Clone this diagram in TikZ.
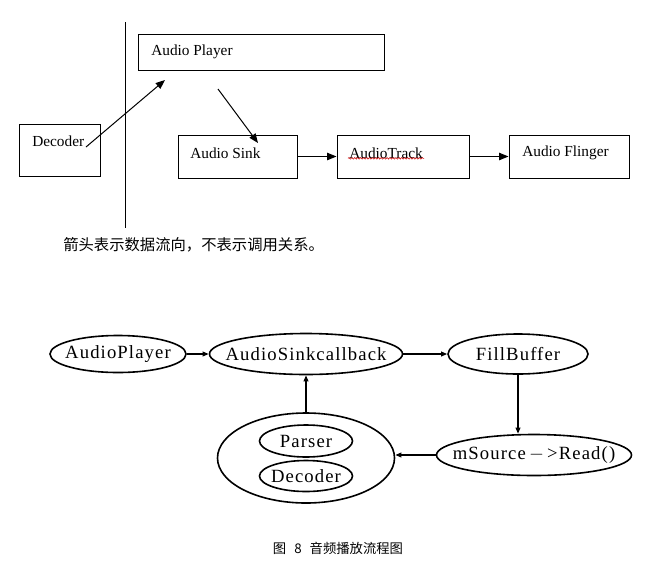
\documentclass[tikz,border=0pt]{standalone}
\usepackage{fontspec}
\setmainfont{Liberation Serif}
\newfontfamily\cjk{Noto Sans CJK SC}
\usetikzlibrary{arrows.meta,shapes.geometric,decorations.pathmorphing}

\begin{document}
\begin{tikzpicture}[x=0.75pt,y=0.75pt,yscale=-1,xscale=1,
  box/.style={draw,line width=0.75pt,inner sep=0pt},
  txt/.style={anchor=west,inner sep=0.75pt,font=\fontsize{11.5}{13}\selectfont},
  thin arr/.style={line width=0.75pt,-{Triangle[length=7pt,width=5.5pt]}},
  oval/.style={draw,ellipse,line width=1.2pt,inner sep=0pt,
    font=\fontsize{14}{16}\selectfont\addfontfeature{LetterSpace=6}},
  flow/.style={line width=1.2pt,-{Triangle[length=4.5pt,width=3.5pt]}}]
\useasboundingbox (0,0) rectangle (663,575);

%Straight Lines: divider
\draw [line width=0.75pt] (125,22) -- (125,228);

%Shape: Rectangle boxes
\node [box, minimum width=184.5pt, minimum height=27pt] (player) at (261,52) {};
\node [box, minimum width=60.75pt, minimum height=39pt] (dec) at (59.5,150) {};
\node [box, minimum width=89.25pt, minimum height=32.25pt] (sink) at (237.5,156.5) {};
\node [box, minimum width=99pt, minimum height=32.25pt] (track) at (403,156.5) {};
\node [box, minimum width=90pt, minimum height=32.25pt] (flinger) at (569,156.5) {};

% Text Node
\node [txt] (playert) at (150,52) {Audio Player};
% Text Node
\node [txt] (dect) at (31,141) {Decoder};
% Text Node
\node [txt] (sinkt) at (189,153) {Audio Sink};
% Text Node
\node [txt] (trackt) at (348,153) {AudioTrack};
% Text Node
\node [txt] (flingert) at (521,153) {Audio Flinger};

%spell check underline
\draw [red!80!black, line width=0.4pt, decorate, decoration={snake,amplitude=0.6pt,segment length=2.2pt}]
  ([yshift=-1pt]trackt.south west) -- ([yshift=-1pt]trackt.south east);

%Straight Lines: data flow
\coordinate (dec out) at (86,147);
\coordinate (player in) at (165,80);
\coordinate (player out) at (218,89);
\coordinate (sink in) at (258,143);
\draw [thin arr] (dec out) -- (player in);
\draw [thin arr] (player out) -- (sink in);
\draw [thin arr] (sink.east) -- (track.west);
\draw [thin arr] (track.east) -- (flinger.west);

% Text Node
\node [anchor=west, inner sep=0.75pt, font=\cjk\fontsize{11.5}{13}\selectfont] (note) at (62,245) {箭头表示数据流向，不表示调用关系。};

%Shape: Ellipses
\node [oval, minimum width=102pt, minimum height=27.75pt] (aplayer) at (118,354) {\makebox[0pt]{AudioPlayer}};
\node [oval, minimum width=144.75pt, minimum height=30.75pt] (cb) at (306,354) {\makebox[0pt]{AudioSinkcallback}};
\node [oval, minimum width=105pt, minimum height=30pt] (fill) at (518,354) {\makebox[0pt]{FillBuffer}};
\node [oval, minimum width=146.25pt, minimum height=30.75pt] (msrc) at (534,455) {\makebox[0pt]{mSource$\,-\,$>Read()}};
\node [oval, minimum width=132.75pt, minimum height=67.5pt] (codec) at (306,458) {};
\node [oval, minimum width=69.75pt, minimum height=24pt] (parser) at (306,441) {\makebox[0pt]{Parser}};
\node [oval, minimum width=69.75pt, minimum height=23.25pt] (bdec) at (306,476) {\makebox[0pt]{Decoder}};

%Straight Lines: call flow
\draw [flow] (aplayer.east) -- (cb.west);
\draw [flow] (cb.east) -- (fill.west);
\draw [flow] (fill.south) -- (fill.south |- msrc.north);
\draw [flow] (msrc.west) -- (msrc.west -| codec.east);
\draw [flow] (codec.north) -- (cb.south);

% Text Node
\node [inner sep=0.75pt, font=\cjk\fontsize{10}{12}\selectfont] (caption) at (338,548) {图\hspace{0.6em}8\hspace{0.6em}音频播放流程图};

\end{tikzpicture}
\end{document}
